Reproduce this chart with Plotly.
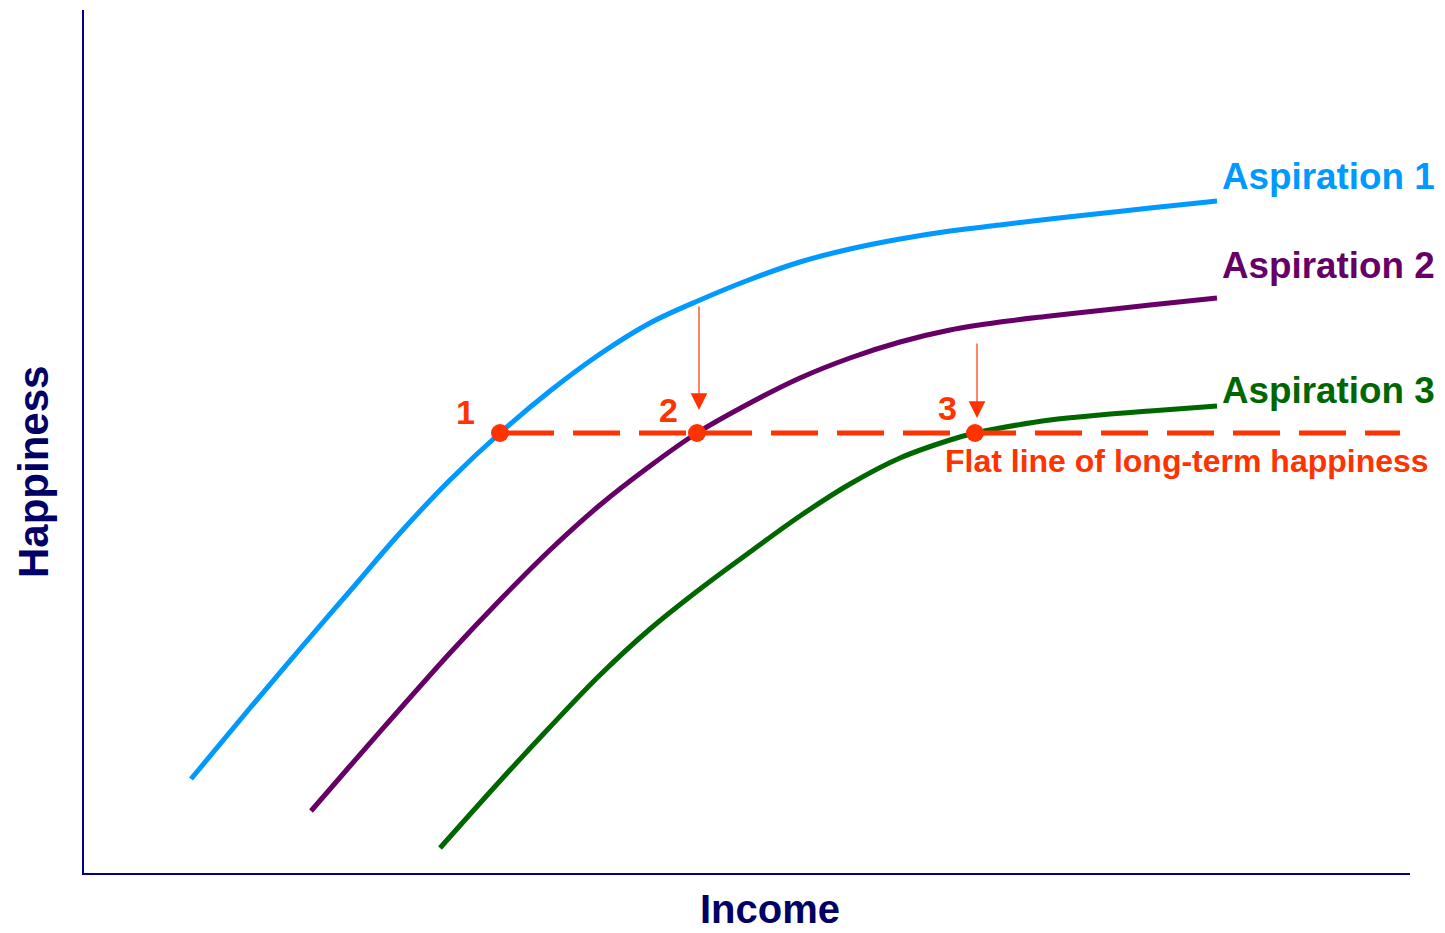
import plotly.graph_objects as go

# Happiness curves for three aspiration levels (income vs happiness, arbitrary units)
income_a1 = [107, 166, 216, 266, 316, 366, 416, 466, 516, 566, 616, 666, 716, 766,
             816, 866, 916, 966, 1016, 1066, 1133]
happy_a1 = [94, 165, 224, 282, 340, 393, 440, 482, 519, 550, 573, 593.5, 611, 624,
            634, 642, 648, 654, 659.5, 665, 672]

income_a2 = [227, 266, 316, 366, 416, 466, 516, 566, 613, 666, 716, 766, 816, 866,
             916, 966, 1016, 1066, 1133]
happy_a2 = [62, 107, 164, 220, 273, 323, 368, 407, 440, 470, 495, 515, 531, 543,
            551, 557, 562.5, 568, 575]

income_a3 = [356, 416, 466, 516, 566, 616, 666, 716, 766, 816, 866, 891, 916, 966,
             1016, 1066, 1133]
happy_a3 = [25, 92, 146, 198, 244, 284, 321, 357, 389, 415, 433, 440, 445, 453,
            458, 462, 467]

series_names = ["Aspiration 1", "Aspiration 2", "Aspiration 3"]
series_colors = ["#0099FF", "#660066", "#006600"]
label_levels = [697, 607.5, 483]   # happiness level where each series name sits

# Long-term happiness level and where each aspiration curve meets it
flat_level = 440
flat_income = [416, 1316]
point_income = [416, 613, 891]
point_labels = ["1", "2", "3"]

# Downward shifts from one aspiration curve to the next
shift_income = [615, 893]
shift_from = [568, 531]
shift_to = [463, 455]

RED = "#FF3300"
NAVY = "#000066"
FONT = "Liberation Sans, Arial, sans-serif"

X_MAX, Y_MAX = 1326, 863

fig = go.Figure()

curves = [(income_a1, happy_a1), (income_a2, happy_a2), (income_a3, happy_a3)]
for (xs, ys), name, color in zip(curves, series_names, series_colors):
    fig.add_trace(go.Scatter(
        x=xs, y=ys, mode="lines", name=name,
        line=dict(color=color, width=5, shape="spline", smoothing=1.0),
        hoverinfo="skip",
    ))

fig.add_trace(go.Scatter(
    x=flat_income, y=[flat_level, flat_level], mode="lines",
    line=dict(color=RED, width=5, dash="0px,7px,47px,12px"),
    hoverinfo="skip",
))

fig.add_trace(go.Scatter(
    x=point_income, y=[flat_level] * len(point_income), mode="markers",
    marker=dict(color=RED, size=18, line=dict(width=0)),
    hoverinfo="skip",
))

annotations = []

for name, color, lvl in zip(series_names, series_colors, label_levels):
    annotations.append(dict(
        x=1140, y=lvl, xref="x", yref="y", xanchor="left", yanchor="middle",
        xshift=-4, text=f"<b>{name}</b>", showarrow=False,
        font=dict(family=FONT, size=36.8, color=color),
    ))

label_offsets = [(-35, 21), (-29, 23), (-28, 25)]
for xv, lab, (dx, dy) in zip(point_income, point_labels, label_offsets):
    annotations.append(dict(
        x=xv, y=flat_level, xref="x", yref="y", xshift=dx, yshift=dy,
        xanchor="center", yanchor="middle",
        text=f"<b>{lab}</b>", showarrow=False,
        font=dict(family=FONT, size=34, color=RED),
    ))

for xv, y0, y1 in zip(shift_income, shift_from, shift_to):
    annotations.append(dict(
        x=xv, y=y1, ax=xv, ay=y0, xref="x", yref="y", axref="x", ayref="y",
        text="", showarrow=True, arrowhead=2, arrowsize=2.8, arrowwidth=1.2,
        arrowcolor=RED, standoff=0, startstandoff=0,
    ))

annotations.append(dict(
    x=862, y=412, xref="x", yref="y", xanchor="left", yanchor="middle",
    xshift=-3, text="<b>Flat line of long-term happiness</b>", showarrow=False,
    font=dict(family=FONT, size=32, color=RED),
))

# Axis titles, placed relative to the plotting area
annotations.append(dict(
    x=0.5173, y=-0.0417, xref="paper", yref="paper", xanchor="center", yanchor="middle",
    text="<b>Income</b>", showarrow=False,
    font=dict(family=FONT, size=40, color=NAVY),
))
annotations.append(dict(
    x=-0.0377, y=0.4647, xref="paper", yref="paper", xanchor="center", yanchor="middle",
    text="<b>Happiness</b>", showarrow=False, textangle=-90,
    font=dict(family=FONT, size=42, color=NAVY),
))

axis_style = dict(
    showgrid=False, zeroline=False, showticklabels=False, ticks="",
    showline=True, linecolor="#000080", linewidth=2, fixedrange=True,
)

fig.update_layout(
    width=1445, height=933, autosize=False,
    margin=dict(l=84, r=35, t=10, b=60, pad=0),
    paper_bgcolor="white", plot_bgcolor="white",
    showlegend=False,
    xaxis=dict(range=[0, X_MAX], **axis_style),
    yaxis=dict(range=[0, Y_MAX], **axis_style),
    annotations=annotations,
)

fig.write_html("out.html")
